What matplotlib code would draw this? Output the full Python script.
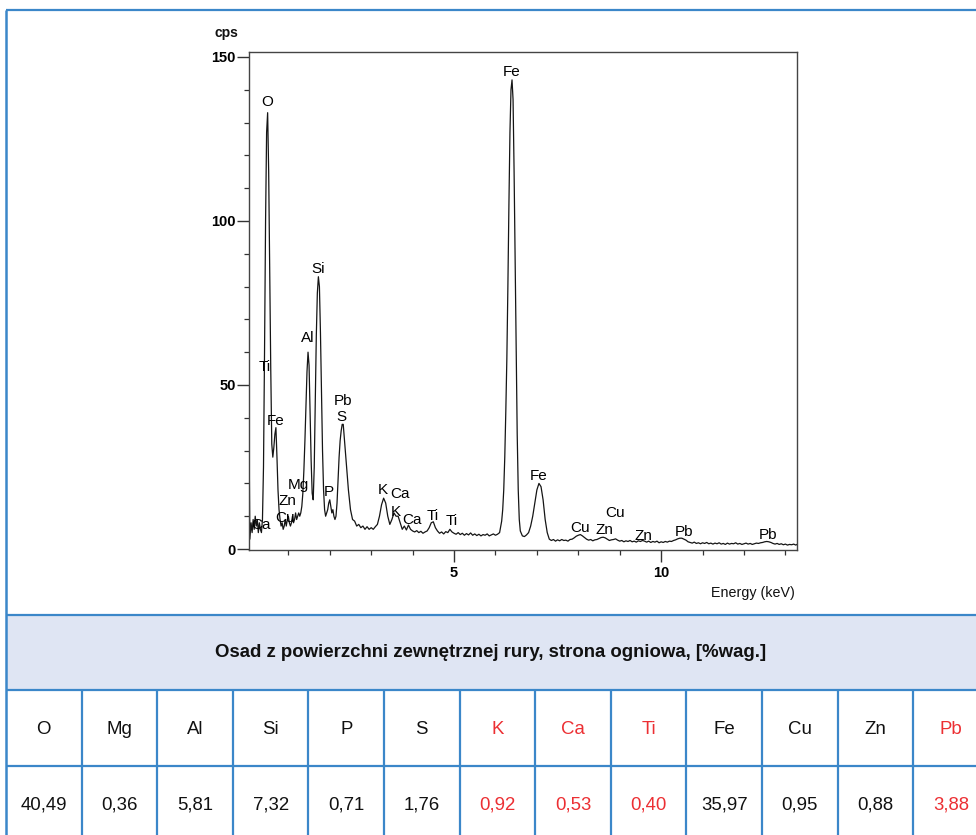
import matplotlib.pyplot as plt
from matplotlib.patches import Rectangle
from matplotlib.ticker import MultipleLocator, FixedLocator

plt.rcParams['font.family'] = ['Liberation Sans', 'DejaVu Sans']

# EDS spectrum (energy in keV, intensity in cps)
energy_kev = [
    0.02, 0.05, 0.07, 0.10, 0.125, 0.15, 0.175, 0.20, 0.225, 0.25, 0.275, 0.30, 0.325, 0.35,
    0.375, 0.40, 0.425, 0.45, 0.475, 0.50, 0.525, 0.55, 0.575, 0.60, 0.625, 0.65, 0.675, 0.70,
    0.725, 0.75, 0.775, 0.80, 0.825, 0.85, 0.875, 0.90, 0.925, 0.95, 0.975, 1.00, 1.025, 1.05,
    1.075, 1.10, 1.125, 1.15, 1.175, 1.20, 1.225, 1.25, 1.275, 1.30, 1.325, 1.35, 1.375, 1.40,
    1.425, 1.45, 1.475, 1.50, 1.525, 1.55, 1.575, 1.60, 1.625, 1.65, 1.675, 1.70, 1.725, 1.75,
    1.775, 1.80, 1.825, 1.85, 1.875, 1.90, 1.925, 1.95, 1.975, 2.00, 2.025, 2.05, 2.075, 2.10,
    2.125, 2.15, 2.175, 2.20, 2.225, 2.25, 2.275, 2.30, 2.325, 2.35, 2.375, 2.40, 2.425, 2.45,
    2.475, 2.50, 2.55, 2.60, 2.65, 2.70, 2.75, 2.80, 2.85, 2.90, 2.95, 3.00, 3.05, 3.10, 3.15,
    3.20, 3.25, 3.30, 3.35, 3.40, 3.45, 3.50, 3.55, 3.60, 3.65, 3.70, 3.75, 3.80, 3.85, 3.90,
    3.95, 4.00, 4.05, 4.10, 4.15, 4.20, 4.25, 4.30, 4.35, 4.40, 4.45, 4.50, 4.55, 4.60, 4.65,
    4.70, 4.75, 4.80, 4.85, 4.90, 4.95, 5.00, 5.05, 5.10, 5.15, 5.20, 5.25, 5.30, 5.35, 5.40,
    5.45, 5.50, 5.55, 5.60, 5.65, 5.70, 5.75, 5.80, 5.85, 5.90, 5.95, 6.00, 6.05, 6.10, 6.15,
    6.175, 6.20, 6.225, 6.25, 6.275, 6.30, 6.325, 6.35, 6.375, 6.40, 6.425, 6.45, 6.475, 6.50,
    6.525, 6.55, 6.575, 6.60, 6.65, 6.70, 6.75, 6.80, 6.85, 6.90, 6.95, 7.00, 7.05, 7.10, 7.15,
    7.20, 7.25, 7.30, 7.35, 7.40, 7.45, 7.50, 7.55, 7.60, 7.65, 7.70, 7.75, 7.80, 7.85, 7.90,
    7.95, 8.00, 8.05, 8.10, 8.15, 8.20, 8.25, 8.30, 8.35, 8.40, 8.45, 8.50, 8.55, 8.60, 8.65,
    8.70, 8.75, 8.80, 8.85, 8.90, 8.95, 9.00, 9.05, 9.10, 9.15, 9.20, 9.25, 9.30, 9.35, 9.40,
    9.45, 9.50, 9.55, 9.60, 9.65, 9.70, 9.75, 9.80, 9.85, 9.90, 9.95, 10.00, 10.05, 10.10,
    10.15, 10.20, 10.25, 10.30, 10.35, 10.40, 10.45, 10.50, 10.55, 10.60, 10.65, 10.70, 10.75,
    10.80, 10.85, 10.90, 10.95, 11.00, 11.05, 11.10, 11.15, 11.20, 11.25, 11.30, 11.35, 11.40,
    11.45, 11.50, 11.55, 11.60, 11.65, 11.70, 11.75, 11.80, 11.85, 11.90, 11.95, 12.00, 12.05,
    12.10, 12.15, 12.20, 12.25, 12.30, 12.35, 12.40, 12.45, 12.50, 12.55, 12.60, 12.65, 12.70,
    12.75, 12.80, 12.85, 12.90, 12.95, 13.00, 13.05, 13.10, 13.15, 13.20, 13.25, 13.28,
]
counts_cps = [
    1, 37, 3, 8, 5, 9, 6, 10, 7, 9, 5, 8, 6, 5,
    9, 25, 60, 100, 127, 133, 115, 85, 55, 32, 28, 31, 35, 37,
    28, 18, 12, 9, 7, 8, 6, 7, 9, 7, 9, 10, 8, 7,
    8, 10, 8, 9, 11, 9, 10, 11, 10, 11, 13, 17, 24, 33,
    44, 54, 60, 56, 42, 27, 17, 15, 25, 45, 65, 78, 83, 80,
    66, 48, 30, 18, 12, 10, 11, 12, 14, 15, 13, 11, 12, 10,
    9, 10, 14, 21, 28, 33, 36, 38, 38, 34, 30, 26, 22, 18,
    15, 12, 9, 8.5, 7, 7.5, 6.5, 7, 6, 6.8, 6, 6.5, 6, 6.8, 7.5,
    10, 13.5, 15.5, 14, 10, 7.5, 9, 11, 10, 10, 8, 6, 7, 5.8, 7.3,
    6, 5.5, 5.2, 5.6, 5, 5.4, 4.8, 5.2, 5.5, 6.5, 8, 8.3, 6.5, 5.5, 4.8,
    5.2, 4.6, 5.3, 5, 6, 5.2, 4.8, 4.5, 5, 4.4, 4.8, 4.2, 4.7, 4.3, 4.9,
    4.2, 4.6, 4.1, 4.5, 4.0, 4.4, 4.2, 4.6, 4.0, 4.3, 4.6, 4.2, 4.5, 5, 8.5,
    12, 18, 28, 42, 58, 80, 105, 127, 140, 143, 137, 115, 88, 60,
    35, 18, 9, 5.5, 4, 3.8, 4.3, 5, 7, 10, 14, 18, 20, 19, 15,
    9, 5, 3, 2.6, 2.9, 2.4, 2.8, 2.5, 2.9, 2.6, 2.7, 2.4, 2.9, 3.0, 3.4,
    3.9, 4.2, 4.4, 4.0, 3.5, 3.0, 2.7, 2.9, 2.5, 2.8, 2.9, 3.2, 3.5, 3.6, 3.4,
    3.0, 2.6, 2.8, 2.9, 3.1, 2.7, 2.4, 2.6, 2.2, 2.5, 2.3, 2.6, 2.2, 2.4, 2.1,
    2.5, 2.3, 2.6, 2.4, 2.1, 2.4, 2.0, 2.3, 2.1, 2.4, 1.9, 2.2, 2.0, 2.3,
    2.1, 2.4, 2.3, 2.6, 2.8, 3.1, 3.3, 3.3, 3.0, 2.7, 2.2, 2.0, 1.8,
    2.1, 1.7, 1.9, 1.6, 1.9, 1.7, 2.0, 1.6, 1.8, 1.5, 1.8, 1.6, 1.9,
    1.5, 1.7, 1.4, 1.8, 1.5, 1.7, 1.6, 1.9, 1.5, 1.7, 1.4, 1.6, 1.8,
    1.5, 1.7, 1.4, 1.6, 1.8, 1.7, 1.9, 2.0, 2.2, 2.3, 2.2, 2.0, 1.7,
    1.5, 1.7, 1.4, 1.6, 1.3, 1.5, 1.2, 1.4, 1.3, 1.5, 1.2, 1.4,
]

# peak annotations (label, energy, cps where the label sits)
peak_labels = ['O', 'Fe', 'Si', 'Al', 'Ti', 'Fe', 'Pb', 'S', 'Mg', 'Zn', 'Cu', 'Ca', 'P',
               'K', 'Ca', 'K', 'Ca', 'Ti', 'Ti', 'Fe', 'Cu', 'Zn', 'Cu', 'Zn', 'Pb', 'Pb']
peak_label_kev = [0.48, 6.40, 1.71, 1.47, 0.43, 0.70, 2.32, 2.29, 1.23, 0.99, 0.92, 0.34, 1.98,
                  3.29, 3.70, 3.60, 3.99, 4.49, 4.95, 7.05, 8.04, 8.62, 8.89, 9.57, 10.56, 12.58]
peak_label_cps = [136.3, 145.4, 85.4, 64.3, 55.5, 39.0, 45.1, 40.2, 19.5, 14.6, 9.5, 7.3, 17.4,
                  18.0, 16.8, 11.3, 8.8, 10.0, 8.5, 22.3, 6.4, 5.8, 11.0, 4.0, 5.2, 4.3]

# composition table
table_title = 'Osad z powierzchni zewnętrznej rury, strona ogniowa, [%wag.]'
elements = ['O', 'Mg', 'Al', 'Si', 'P', 'S', 'K', 'Ca', 'Ti', 'Fe', 'Cu', 'Zn', 'Pb']
wt_percent = [40.49, 0.36, 5.81, 7.32, 0.71, 1.76, 0.92, 0.53, 0.40, 35.97, 0.95, 0.88, 3.88]
highlighted = ['K', 'Ca', 'Ti', 'Pb']

BLUE = '#3b87c9'
RED = '#ec2f33'

fig = plt.figure(figsize=(9.76, 8.35), dpi=100)

# background layer in pixel coordinates for the table frame
bg = fig.add_axes([0, 0, 1, 1])
bg.set_xlim(0, 976)
bg.set_ylim(835, 0)
bg.axis('off')

left, col_w = 6, 75.6
rows = [10, 614.5, 690, 766]
bg.add_patch(Rectangle((left, rows[1]), 1000, rows[2] - rows[1], facecolor='#dfe5f3',
                       edgecolor='none'))
for y in rows:
    bg.plot([left, 976], [y, y], color=BLUE, lw=1.6, solid_capstyle='butt')
bg.plot([left, left], [rows[0], 835], color=BLUE, lw=1.8, solid_capstyle='butt')
for i in range(1, len(elements)):
    x = left + i * col_w
    bg.plot([x, x], [rows[2], 835], color=BLUE, lw=1.6, solid_capstyle='butt')

bg.text(491, (rows[1] + rows[2]) / 2, table_title, ha='center', va='center',
        fontsize=13.4, fontweight='bold', color='#111')
for i, (el, val) in enumerate(zip(elements, wt_percent)):
    cx = left + (i + 0.5) * col_w
    c = RED if el in highlighted else '#111'
    bg.text(cx, 729, el, ha='center', va='center', fontsize=13.4, color=c)
    bg.text(cx, 805, f'{val:.2f}'.replace('.', ','), ha='center', va='center',
            fontsize=13.4, color=c)

# spectrum
ax = fig.add_axes([249 / 976, (835 - 550) / 835, 548 / 976, 498 / 835])
ax.plot(energy_kev, counts_cps, color='#151515', lw=0.9)
ax.set_xlim(0.05, 13.28)
ax.set_ylim(-0.3, 151.5)
ax.set_xticks([5, 10])
ax.xaxis.set_minor_locator(FixedLocator([1, 2, 3, 4, 6, 7, 8, 9, 11, 12, 13]))
ax.set_yticks([0, 50, 100, 150])
ax.yaxis.set_minor_locator(MultipleLocator(10))
ax.tick_params(which='major', direction='out', length=8.5, width=1, color='#333',
               labelsize=10.5, pad=3)
ax.tick_params(which='minor', direction='out', length=3.5, width=0.9, color='#333')
ax.tick_params(axis='y', which='major', pad=1)
for lbl in ax.get_xticklabels() + ax.get_yticklabels():
    lbl.set_fontweight('bold')
for s in ax.spines.values():
    s.set_color('#444')
    s.set_linewidth(1.0)

for lab, e, c in zip(peak_labels, peak_label_kev, peak_label_cps):
    ax.text(e, c, lab, ha='center', va='center', fontsize=11, color='#000')

fig.text(226 / 976, 1 - 33 / 835, 'cps', ha='center', va='center', fontsize=10,
         fontweight='bold', color='#111')
fig.text(753 / 976, 1 - 593 / 835, 'Energy (keV)', ha='center', va='center',
         fontsize=10.3, color='#111')

fig.savefig('out.png', dpi=100)
